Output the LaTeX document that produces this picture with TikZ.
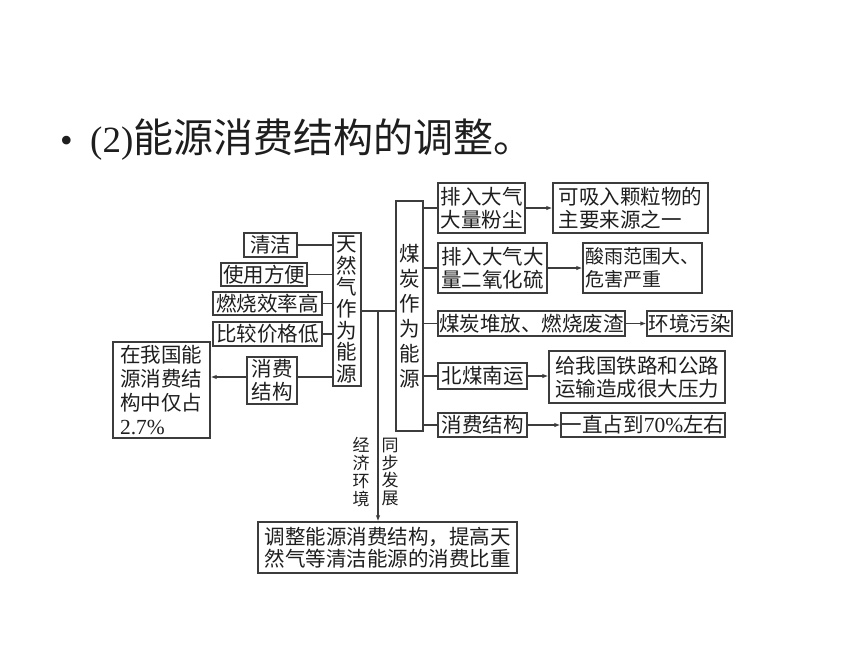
\documentclass[tikz,border=0pt]{standalone}
\usepackage{fontspec}
\setmainfont{Liberation Serif}
\newfontfamily\cjk{Noto Sans CJK SC}
\usetikzlibrary{arrows.meta,calc}
\definecolor{linec}{HTML}{3C3C3C}
\definecolor{textc}{HTML}{1E1E1E}
\begin{document}
\begin{tikzpicture}[x=1pt,y=-1pt,
  box/.style={draw=linec, line width=1.3pt, inner sep=0pt, align=center, text=textc,
    font=\cjk\fontsize{20.5}{23}\selectfont},
  vbox/.style={draw=linec, line width=1.3pt, inner sep=0pt, align=center, text=textc,
    font=\cjk\fontsize{20.5}{21.7}\selectfont},
  vlabel/.style={inner sep=0pt, align=center, text=textc,
    font=\cjk\fontsize{17}{17.8}\selectfont},
  conn/.style={draw=linec, line width=1.3pt},
  arr/.style={conn, -{Latex[length=6pt,width=4.5pt]}}
]
\useasboundingbox (0,0) rectangle (860,645);
\fill[white] (0,0) rectangle (860,645);

% title
\node[anchor=base west, inner sep=0pt, text=textc, font=\fontsize{36}{40}\selectfont] (bul) at (60,152) {•};
\node[anchor=base west, inner sep=0pt, text=textc] (title) at (90,152)
  {{\fontsize{37}{40}\selectfont (2)}{\cjk\fontsize{40}{44}\selectfont 能源消费结构的调整。}};

% left part
\node[box, minimum width=53pt, minimum height=24pt] (qj) at (270.5,245) {清洁};
\node[box, minimum width=86pt, minimum height=23pt] (sy) at (264,274.5) {使用方便};
\node[box, minimum width=109pt, minimum height=23pt] (rs) at (267.5,303.5) {燃烧效率高};
\node[box, minimum width=109pt, minimum height=24pt] (bj) at (267.5,334) {比较价格低};
\node[vbox, minimum width=28pt, minimum height=153pt] (trq) at (347,309.5) {天\\然\\气\\作\\为\\能\\源};
\node[box, minimum width=50pt, minimum height=47pt] (xf1) at (272,380.5) {消费\\结构};
\node[box, minimum width=97pt, minimum height=96pt, text width=83pt, align=left,
  font=\cjk\fontsize{20.5}{24.3}\selectfont] (big) at (161.5,390)
  {在我国能\\源消费结\\构中仅占\\{\rmfamily\fontsize{21.5}{24.3}\selectfont 2.7\%}};

\coordinate (k) at (0,377);
\draw[conn] (qj.east) -- (qj.east -| trq.west);
\draw[conn] (sy.east) -- (sy.east -| trq.west);
\draw[conn] (rs.east) -- (rs.east -| trq.west);
\draw[conn] (bj.east) -- (bj.east -| trq.west);
\draw[conn] (k -| trq.west) -- (k -| xf1.east);
\draw[arr] (k -| xf1.west) -- (k -| big.east);

% coal
\node[vbox, minimum width=27pt, minimum height=230pt,
  font=\cjk\fontsize{20.5}{25}\selectfont] (mt) at (409.5,316) {煤\\炭\\作\\为\\能\\源};

\coordinate (j) at (378,311);
\draw[conn] (j -| trq.east) -- (j -| mt.west);

\node[box, minimum width=87pt, minimum height=50pt] (a1) at (481.5,208) {排入大气\\大量粉尘};
\node[box, minimum width=155pt, minimum height=50pt, text width=143.5pt, align=left] (b1) at (630.5,208) {可吸入颗粒物的\\主要来源之一};
\node[box, minimum width=109pt, minimum height=50pt] (a2) at (492.5,268) {排入大气大\\量二氧化硫};
\node[box, minimum width=119pt, minimum height=50pt, text width=114pt, align=left,
  font=\cjk\fontsize{19}{23}\selectfont] (b2) at (642.5,268) {酸雨范围大、\\危害严重};
\node[box, minimum width=187pt, minimum height=25pt] (a3) at (531.5,323.5) {煤炭堆放、燃烧废渣};
\node[box, minimum width=85pt, minimum height=25pt] (b3) at (689.5,323.5) {环境污染};
\node[box, minimum width=89pt, minimum height=26pt] (a4) at (482.5,376) {北煤南运};
\node[box, minimum width=176pt, minimum height=52pt] (b4) at (637,377) {给我国铁路和公路\\运输造成很大压力};
\node[box, minimum width=89pt, minimum height=24pt] (a5) at (482.5,425) {消费结构};
\node[box, minimum width=164pt, minimum height=24pt] (b5) at (643,425) {一直占到{\rmfamily\fontsize{21.5}{23}\selectfont 70\%}左右};

\foreach \n in {a1,a2,a3,a4,a5}{
  \draw[conn] (\n.west -| mt.east) -- (\n.west);
}
\draw[arr] (a1.east) -- (b1.west);
\draw[arr] (a2.east) -- (b2.west);
\draw[arr] (a3.east) -- (b3.west);
\draw[arr] (a4.east) -- (a4.east -| b4.west);
\draw[arr] (a5.east) -- (b5.west);

% bottom
\node[box, minimum width=259pt, minimum height=51pt,
  font=\cjk\fontsize{20.5}{22}\selectfont] (bt) at (387.5,547.5)
  {调整能源消费结构，提高天\\然气等清洁能源的消费比重};
\draw[arr] (j) -- (j |- bt.north);

\node[vlabel] (l1) at (361,472) {经\\济\\环\\境};
\node[vlabel] (l2) at (390,472) {同\\步\\发\\展};
\end{tikzpicture}
\end{document}
